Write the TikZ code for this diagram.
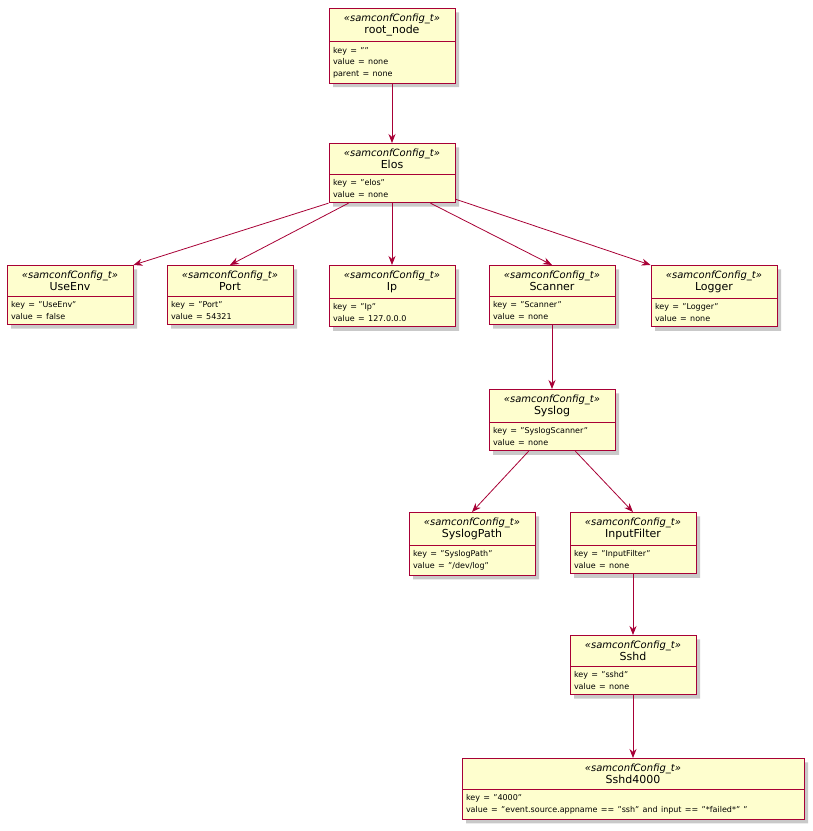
\documentclass[tikz,border=0pt]{standalone}
\usepackage{fontspec}
\setmainfont{DejaVu Sans}
\usetikzlibrary{shapes.multipart,shadows,arrows.meta}
\definecolor{umlfill}{HTML}{FEFECE}
\definecolor{umlline}{HTML}{A80036}
\tikzset{
  obj/.style={rectangle split, rectangle split parts=2, draw=umlline, fill=umlfill,
    line width=0.9pt, anchor=north, text width=#1, inner xsep=4pt, inner ysep=5pt,
    drop shadow={shadow xshift=4pt, shadow yshift=-4pt, fill=black!35, opacity=0.6}},
  obj/.default=118pt,
  link/.style={draw=umlline, line width=0.8pt, -{Stealth[length=9pt,width=7pt]}}
}
\newcommand{\objhead}[1]{\centering{\fontsize{10}{13}\selectfont\itshape «samconfConfig\_t»}\\{\fontsize{11}{14}\selectfont #1}\par}
\newcommand{\objattr}[1]{\raggedright\fontsize{8}{11.5}\selectfont #1\par}
\begin{document}
\begin{tikzpicture}[x=1pt,y=-1pt]
\useasboundingbox[fill=white] (0,0) rectangle (813,831);
% tree of config nodes
\node[obj] (root) at (392,8) {\objhead{root\_node}\nodepart{two}\objattr{key = ""\\value = none\\parent = none}};
\node[obj] (elos) at (392,143) {\objhead{Elos}\nodepart{two}\objattr{key = "elos"\\value = none}};
\node[obj] (useenv) at (70,265) {\objhead{UseEnv}\nodepart{two}\objattr{key = "UseEnv"\\value = false}};
\node[obj] (port) at (230,265) {\objhead{Port}\nodepart{two}\objattr{key = "Port"\\value = 54321}};
\node[obj] (ip) at (392,265) {\objhead{Ip}\nodepart{two}\objattr{key = "Ip"\\value = 127.0.0.0}};
\node[obj] (scanner) at (552,265) {\objhead{Scanner}\nodepart{two}\objattr{key = "Scanner"\\value = none}};
\node[obj] (logger) at (714,265) {\objhead{Logger}\nodepart{two}\objattr{key = "Logger"\\value = none}};
\node[obj] (syslog) at (552,389) {\objhead{Syslog}\nodepart{two}\objattr{key = "SyslogScanner"\\value = none}};
\node[obj] (syspath) at (472,512) {\objhead{SyslogPath}\nodepart{two}\objattr{key = "SyslogPath"\\value = "/dev/log"}};
\node[obj] (filter) at (633,512) {\objhead{InputFilter}\nodepart{two}\objattr{key = "InputFilter"\\value = none}};
\node[obj] (sshd) at (633,635) {\objhead{Sshd}\nodepart{two}\objattr{key = "sshd"\\value = none}};
\node[obj=334pt] (sshdrule) at (633,758) {\objhead{Sshd4000}\nodepart{two}\objattr{key = "4000"\\value = "event.source.appname == "ssh" and input == "*failed*" "}};
% links
\draw[link] (root) -- (elos);
\draw[link] (elos.south west) -- (useenv.north east);
\draw[link] ([xshift=20pt]elos.south west) -- (port.north);
\draw[link] (elos) -- (ip);
\draw[link] ([xshift=-25pt]elos.south east) -- (scanner.north);
\draw[link] ([yshift=4pt]elos.south east) -- (logger.north west);
\draw[link] (scanner) -- (syslog);
\draw[link] ([xshift=40pt]syslog.south west) -- (syspath.north);
\draw[link] ([xshift=-40pt]syslog.south east) -- (filter.north);
\draw[link] (filter) -- (sshd);
\draw[link] (sshd) -- (sshdrule);
\end{tikzpicture}
\end{document}
